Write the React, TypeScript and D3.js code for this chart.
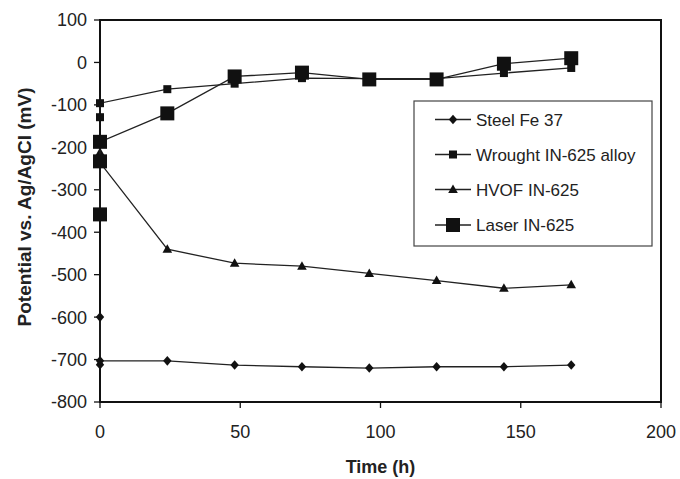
import React from 'react';
import * as d3 from 'd3';

const steelTime = [0, 0, 0, 24, 48, 72, 96, 120, 144, 168];
const steelPotential = [-600, -712, -703, -703, -713, -717, -720, -717, -717, -713];
const wroughtTime = [0, 0, 24, 48, 72, 96, 120, 144, 168];
const wroughtPotential = [-129, -96, -63, -50, -37, -38, -38, -25, -13];
const hvofTime = [0, 0, 24, 48, 72, 96, 120, 144, 168];
const hvofPotential = [-212, -236, -440, -473, -480, -497, -514, -532, -524];
const laserTime = [0, 0, 0, 24, 48, 72, 96, 120, 144, 168];
const laserPotential = [-358, -233, -187, -120, -33, -24, -40, -40, -3, 10];

const xTicks = [0, 50, 100, 150, 200];
const yTicks = [100, 0, -100, -200, -300, -400, -500, -600, -700, -800];
const legendLabels = ['Steel Fe 37', 'Wrought IN-625 alloy', 'HVOF IN-625', 'Laser IN-625'];
const markerKinds = ['diamond', 'smallSquare', 'triangle', 'bigSquare'];

const W = 680;
const H = 479;
const FONT = '"Liberation Sans", Arial, Helvetica, sans-serif';

const x = d3.scaleLinear().domain([0, 200]).range([100, 661]);
const y = d3.scaleLinear().domain([-800, 100]).range([402, 20]);

function Marker({ kind, cx, cy }: { kind: string; cx: number; cy: number }) {
  const fill = '#111';
  if (kind === 'diamond') {
    return <path d={`M${cx},${cy - 4.8}L${cx + 4.2},${cy}L${cx},${cy + 4.8}L${cx - 4.2},${cy}Z`} fill={fill} />;
  }
  if (kind === 'smallSquare') {
    return <rect x={cx - 4} y={cy - 4} width={8} height={8} fill={fill} />;
  }
  if (kind === 'triangle') {
    return <path d={`M${cx},${cy - 5}L${cx + 4.8},${cy + 3.5}L${cx - 4.8},${cy + 3.5}Z`} fill={fill} />;
  }
  return <rect x={cx - 7} y={cy - 7} width={14} height={14} fill={fill} />;
}

export default function App() {
  const series = [
    { t: steelTime, v: steelPotential, kind: markerKinds[0] },
    { t: wroughtTime, v: wroughtPotential, kind: markerKinds[1] },
    { t: hvofTime, v: hvofPotential, kind: markerKinds[2] },
    { t: laserTime, v: laserPotential, kind: markerKinds[3] },
  ];
  const line = d3
    .line<[number, number]>()
    .x((d) => x(d[0]))
    .y((d) => y(d[1]));

  const legendRows = [119.5, 154.5, 189.5, 225];

  return (
    <svg width={W} height={H} style={{ position: 'absolute', left: 0, top: 0, background: '#fff' }} fontFamily={FONT}>
      <rect x={0} y={0} width={W} height={H} fill="#fff" />
      {/* plot frame */}
      <rect x={x(0)} y={y(100)} width={x(200) - x(0)} height={y(-800) - y(100)} fill="none" stroke="#111" strokeWidth={2} />
      {/* y ticks */}
      {yTicks.map((v) => (
        <g key={'y' + v}>
          <line x1={x(0) - 6} x2={x(0)} y1={y(v)} y2={y(v)} stroke="#111" strokeWidth={1.3} />
          <text x={x(0) - 13} y={y(v)} dy="0.36em" textAnchor="end" fontSize={18} fill="#222">
            {v}
          </text>
        </g>
      ))}
      {/* x ticks */}
      {xTicks.map((v) => (
        <g key={'x' + v}>
          <line x1={x(v)} x2={x(v)} y1={y(-800)} y2={y(-800) + 6} stroke="#111" strokeWidth={1.3} />
          <text x={x(v)} y={438} textAnchor="middle" fontSize={18} fill="#222">
            {v}
          </text>
        </g>
      ))}
      {/* axis titles */}
      <text x={(x(0) + x(200)) / 2} y={473} textAnchor="middle" fontSize={18} fontWeight="bold" fill="#222">
        Time (h)
      </text>
      <text
        transform={`translate(31,${(y(100) + y(-800)) / 2 - 4}) rotate(-90)`}
        textAnchor="middle"
        fontSize={19}
        fontWeight="bold"
        fill="#222"
      >
        Potential vs. Ag/AgCl (mV)
      </text>
      {/* series */}
      {series.map((s, i) => {
        const pts: [number, number][] = s.t.map((t, j) => [t, s.v[j]]);
        return (
          <g key={'s' + i}>
            <path d={line(pts) || ''} fill="none" stroke="#222" strokeWidth={1.3} />
            {pts.map((p, j) => (
              <Marker key={j} kind={s.kind} cx={x(p[0])} cy={y(p[1])} />
            ))}
          </g>
        );
      })}
      {/* legend */}
      <rect x={414} y={101} width={238} height={145} fill="#fff" stroke="#444" strokeWidth={1.2} />
      {legendLabels.map((lab, i) => (
        <g key={'l' + i}>
          <line x1={435} x2={471} y1={legendRows[i]} y2={legendRows[i]} stroke="#222" strokeWidth={1.3} />
          <Marker kind={markerKinds[i]} cx={453} cy={legendRows[i]} />
          <text x={476} y={legendRows[i]} dy="0.36em" fontSize={17} fill="#222">
            {lab}
          </text>
        </g>
      ))}
    </svg>
  );
}
